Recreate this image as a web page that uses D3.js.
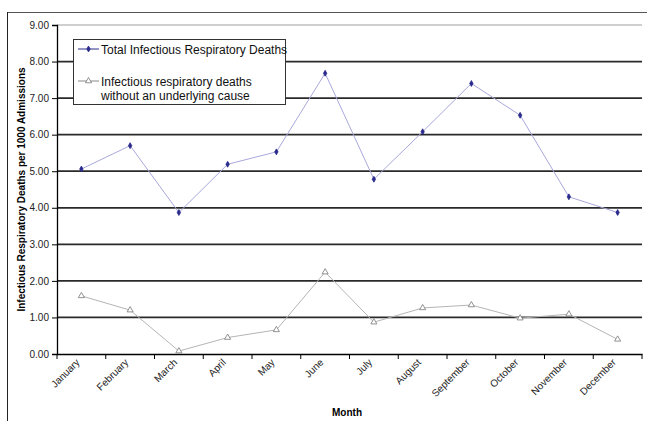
<!DOCTYPE html>
<html><head><meta charset="utf-8">
<script src="https://cdn.jsdelivr.net/npm/d3@7"></script>
<style>
body{margin:0;background:#fff;}
svg{display:block;font-family:"Liberation Sans",Arial,sans-serif;}
</style></head>
<body><svg id="c" width="647" height="421"></svg>
<script>
const months = ["January","February","March","April","May","June","July","August","September","October","November","December"];
const totalDeaths = [5.06,5.70,3.87,5.19,5.53,7.68,4.78,6.08,7.40,6.53,4.30,3.87];
const noCauseDeaths = [1.59,1.20,0.08,0.45,0.66,2.24,0.87,1.26,1.34,0.98,1.09,0.40];
const yTicks = [0,1,2,3,4,5,6,7,8,9];
const seriesNames = ["Total Infectious Respiratory Deaths", ["Infectious respiratory deaths","without an underlying cause"]];

const svg = d3.select("#c");
const L = 57, R = 642, T = 25, B = 354;
const x = d3.scaleBand().domain(months).range([L, R]);
const y = d3.scaleLinear().domain([0, 9]).range([B, T]);

// outer border (top & left)
svg.append("line").attr("x1",7).attr("x2",647).attr("y1",12.5).attr("y2",12.5).attr("stroke","#555").attr("stroke-width",1.2);
svg.append("line").attr("x1",7.5).attr("x2",7.5).attr("y1",12).attr("y2",421).attr("stroke","#222").attr("stroke-width",1);

// gridlines
svg.append("g").selectAll("line").data(yTicks.filter(d=>d>0)).join("line")
  .attr("x1",L).attr("x2",R).attr("y1",d=>y(d)).attr("y2",d=>y(d))
  .attr("stroke",d=>d===9?"#cfcfcf":"#2a2a2a").attr("stroke-width",d=>d===9?2:1.7);

// y axis
const yAxis = svg.append("g").attr("transform",`translate(${L},0)`)
  .call(d3.axisLeft(y).tickValues(yTicks).tickFormat(d3.format(".2f")).tickSize(5).tickPadding(3));
yAxis.select(".domain").attr("stroke","#000").attr("stroke-width",1.3);
yAxis.selectAll(".tick line").attr("stroke","#000");
yAxis.selectAll("text").attr("font-size",10).attr("fill","#222").attr("font-family","Liberation Sans, Arial");

// x axis
const xAxis = svg.append("g").attr("transform",`translate(0,${B})`)
  .call(d3.axisBottom(x).tickSize(0).tickFormat(""));
xAxis.select(".domain").attr("stroke","#000").attr("stroke-width",1.3);
const bounds = months.map(m=>x(m)).concat([R]);
svg.append("g").selectAll("line").data(bounds).join("line")
  .attr("x1",d=>d).attr("x2",d=>d).attr("y1",B).attr("y2",B+5).attr("stroke","#000");
svg.append("g").selectAll("text").data(months).join("text")
  .attr("transform",d=>`translate(${x(d)+x.bandwidth()/2-1},${B+9}) rotate(-45)`)
  .attr("text-anchor","end").attr("font-size",10).attr("fill","#222").text(d=>d);

// axis titles
svg.append("text").attr("transform",`translate(25,${(T+B)/2}) rotate(-90)`)
  .attr("text-anchor","middle").attr("font-size",10).attr("font-weight","bold").text("Infectious Respiratory Deaths per 1000 Admissions");
svg.append("text").attr("x",347).attr("y",416).attr("text-anchor","middle")
  .attr("font-size",10).attr("font-weight","bold").text("Month");

const cx = d => x(d) + x.bandwidth()/2;
const line = d3.line().x((d,i)=>cx(months[i])).y(d=>y(d));

// series 2
svg.append("path").datum(noCauseDeaths).attr("d",line).attr("fill","none").attr("stroke","#b5b5b5").attr("stroke-width",1);
const tri = d3.symbol().type(d3.symbolTriangle).size(16);
svg.append("g").selectAll("path").data(noCauseDeaths).join("path")
  .attr("d",tri).attr("transform",(d,i)=>`translate(${cx(months[i])},${y(d)})`)
  .attr("fill","#fff").attr("stroke","#777").attr("stroke-width",0.8);

// series 1
svg.append("path").datum(totalDeaths).attr("d",line).attr("fill","none").attr("stroke","#a8a8dc").attr("stroke-width",1);
const dia = d3.symbol().type(d3.symbolDiamond).size(10);
svg.append("g").selectAll("path").data(totalDeaths).join("path")
  .attr("d",dia).attr("transform",(d,i)=>`translate(${cx(months[i])},${y(d)})`)
  .attr("fill","#2a2a8c").attr("stroke","#2a2a8c").attr("stroke-width",0.8);

// legend
const lg = svg.append("g");
lg.append("rect").attr("x",73.5).attr("y",39.5).attr("width",212).attr("height",65)
  .attr("fill","#fff").attr("stroke","#333").attr("stroke-width",1);
lg.append("line").attr("x1",78).attr("x2",99).attr("y1",49).attr("y2",49).attr("stroke","#2a2a8c");
lg.append("path").attr("d",dia).attr("transform","translate(88.5,49)").attr("fill","#2a2a8c").attr("stroke","#2a2a8c").attr("stroke-width",0.8);
lg.append("text").attr("x",101).attr("y",53.5).attr("font-size",12).attr("fill","#111").text(seriesNames[0]);
lg.append("line").attr("x1",78).attr("x2",99).attr("y1",81).attr("y2",81).attr("stroke","#888");
lg.append("path").attr("d",tri).attr("transform","translate(88.5,81)").attr("fill","#fff").attr("stroke","#777").attr("stroke-width",0.8);
lg.append("text").attr("x",101).attr("y",85.5).attr("font-size",12).attr("fill","#111").text(seriesNames[1][0]);
lg.append("text").attr("x",101).attr("y",99.5).attr("font-size",12).attr("fill","#111").text(seriesNames[1][1]);
</script></body></html>
